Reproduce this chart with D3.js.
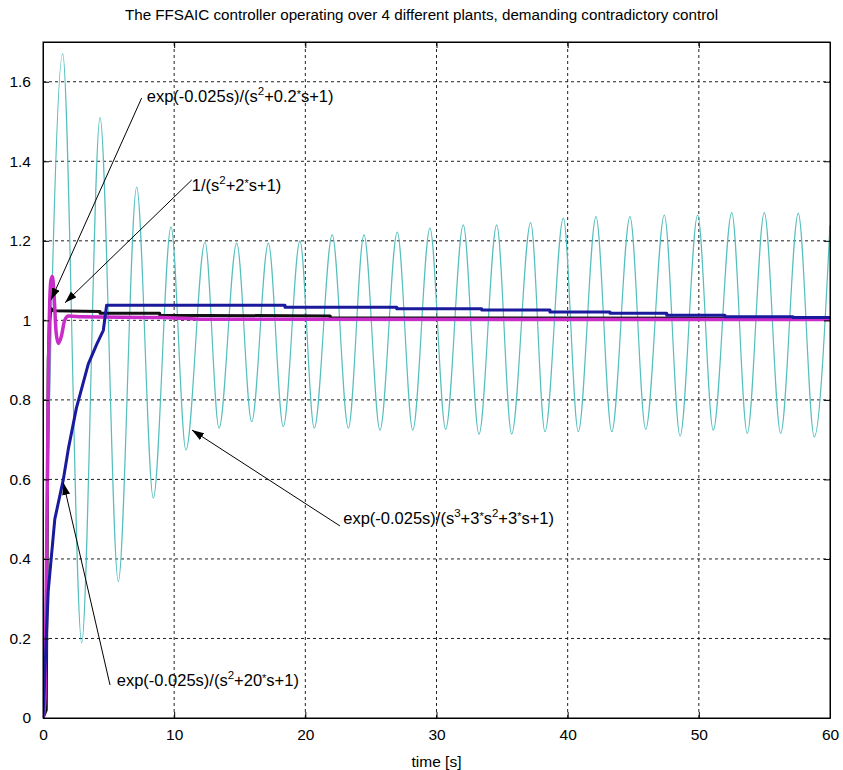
<!DOCTYPE html>
<html>
<head>
<meta charset="utf-8">
<script src="https://cdn.jsdelivr.net/npm/d3@7/dist/d3.min.js"></script>
<style>
    body { margin: 0; background: #fff; }
    svg { display: block; font-family: "Liberation Sans", Arial, sans-serif; }
</style>
</head>
<body>
<div class="chart"></div>
<script>
const xTicks = [0, 10, 20, 30, 40, 50, 60]
const xTickLabels = ["0", "10", "20", "30", "40", "50", "60"]
const yTicks = [0, 0.2, 0.4, 0.6, 0.8, 1, 1.2, 1.4, 1.6]
const yTickLabels = ["0", "0.2", "0.4", "0.6", "0.8", "1", "1.2", "1.4", "1.6"]

// exp(-0.025s)/(s^3+3*s^2+3*s+1): start, then peaks and troughs
const cyanTime = [0, 1.50, 2.95, 4.35, 5.74, 7.14, 8.41, 9.76, 10.90, 12.35, 13.42, 14.77, 15.91,
    17.18, 18.32, 19.59, 20.68, 22.05, 23.28, 24.47, 25.69, 27.01, 28.19, 29.50, 30.70, 32.04,
    33.24, 34.59, 35.73, 37.18, 38.27, 39.67, 40.81, 42.16, 43.36, 44.75, 45.95, 47.37, 48.57,
    49.91, 51.10, 52.51, 53.69, 54.99, 56.24, 57.58, 58.80, 60]
const cyanValue = [0, 1.67, 0.189, 1.51, 0.343, 1.335, 0.553, 1.235, 0.674, 1.197, 0.729, 1.194, 0.745,
    1.194, 0.733, 1.200, 0.729, 1.215, 0.729, 1.215, 0.724, 1.222, 0.724, 1.232, 0.726, 1.240,
    0.714, 1.240, 0.714, 1.246, 0.720, 1.257, 0.720, 1.261, 0.720, 1.261, 0.726, 1.265, 0.709,
    1.265, 0.724, 1.271, 0.716, 1.271, 0.716, 1.269, 0.707, 1.24]

// 1/(s^2+2*s+1)
const blackTime = [0, 0.25, 0.32, 0.4, 0.5, 0.6, 0.8, 4.35, 4.35, 8.9, 8.9, 21.9, 21.9, 60]
const blackValue = [0, 0.02, 0.45, 0.9, 1.0, 1.03, 1.024, 1.022, 1.018, 1.018, 1.013, 1.011, 1.006, 1.005]

// exp(-0.025s)/(s^2+0.2*s+1)
const magentaTime = [0, 0.15, 0.3, 0.45, 0.6, 0.72, 0.85, 1.0, 1.17, 1.4, 1.65, 1.95, 3, 9, 12, 60]
const magentaValue = [0, 0.05, 0.5, 0.95, 1.1, 1.11, 1.06, 0.97, 0.942, 0.96, 1.0, 1.011, 1.009, 1.007, 1.003, 1.002]

// exp(-0.025s)/(s^2+20*s+1)
const blueTime = [0, 0.4, 0.9, 1.55, 1.95, 2.55, 3.45, 4.1, 4.6, 4.85, 18.45, 18.45, 26.97, 26.97,
    33.45, 33.45, 38.65, 38.65, 43.23, 43.23, 47.55, 47.55, 51.99, 51.99, 57.18, 57.18, 60]
const blueValue = [0, 0.32, 0.50, 0.60, 0.68, 0.78, 0.89, 0.94, 0.975, 1.038, 1.038, 1.033, 1.033, 1.029,
    1.029, 1.026, 1.026, 1.021, 1.021, 1.018, 1.018, 1.013, 1.013, 1.009, 1.009, 1.007, 1.007]

const title = "The FFSAIC controller operating over 4 different plants, demanding contradictory control"

function drawChart() {
    var w = 843, h = 770;
    var padding = { left: 43, right: 13, top: 42, bottom: 52 };

    var svg = d3.select('.chart')
        .append("svg")
        .attr("width", w)
        .attr("height", h);

    var xScale = d3.scaleLinear().domain([0, 60]).range([padding.left, w - padding.right]);
    var yScale = d3.scaleLinear().domain([0, 1.7]).range([h - padding.bottom, padding.top]);

    var defs = svg.append("defs");
    defs.append("clipPath").attr("id", "plot-clip")
        .append("rect")
        .attr("x", xScale(0)).attr("y", yScale(1.7))
        .attr("width", xScale(60) - xScale(0))
        .attr("height", yScale(0) - yScale(1.7));
    defs.append("marker")
        .attr("id", "arrow")
        .attr("markerUnits", "userSpaceOnUse")
        .attr("viewBox", "0 0 12 8")
        .attr("refX", 12).attr("refY", 4)
        .attr("markerWidth", 12).attr("markerHeight", 8)
        .attr("orient", "auto")
        .append("path")
        .attr("d", "M0,0L12,4L0,8z")
        .attr("fill", "#000");

    // grid
    var grid = svg.append("g").attr("class", "grid");
    grid.selectAll(".gx")
        .data(xTicks.filter(d => d > 0 && d < 60))
        .enter().append("line")
        .attr("x1", d => xScale(d)).attr("x2", d => xScale(d))
        .attr("y1", yScale(0)).attr("y2", yScale(1.7));
    grid.selectAll(".gy")
        .data(yTicks.filter(d => d > 0))
        .enter().append("line")
        .attr("x1", xScale(0)).attr("x2", xScale(60))
        .attr("y1", d => yScale(d)).attr("y2", d => yScale(d));
    grid.selectAll("line")
        .attr("stroke", "#222")
        .attr("stroke-width", 1)
        .attr("stroke-dasharray", "3,3");

    // series
    var lineLinear = d3.line().x(d => xScale(d[0])).y(d => yScale(d[1]));
    var lineSmooth = d3.line().x(d => xScale(d[0])).y(d => yScale(d[1])).curve(d3.curveMonotoneX);

    var series = [
        { t: cyanTime, v: cyanValue, color: "#55bebe", width: 1.2, gen: lineSmooth },
        { t: blackTime, v: blackValue, color: "#111", width: 3, gen: lineLinear },
        { t: magentaTime, v: magentaValue, color: "#c92cc9", width: 3.5, gen: lineSmooth },
        { t: blueTime, v: blueValue, color: "#1a1a9c", width: 3, gen: lineLinear }
    ];

    var plot = svg.append("g").attr("clip-path", "url(#plot-clip)");
    series.forEach(s => {
        plot.append("path")
            .datum(s.t.map((t, i) => [t, s.v[i]]))
            .attr("fill", "none")
            .attr("stroke", s.color)
            .attr("stroke-width", s.width)
            .attr("stroke-linejoin", "round")
            .attr("d", s.gen);
    });

    // axes
    var xAxis = d3.axisBottom(xScale).tickValues(xTicks)
        .tickFormat((d, i) => xTickLabels[i]).tickSizeInner(-6).tickSizeOuter(0).tickPadding(11);
    var yAxis = d3.axisLeft(yScale).tickValues(yTicks)
        .tickFormat((d, i) => yTickLabels[i]).tickSizeInner(-6).tickSizeOuter(0).tickPadding(12);
    var xAxisTop = d3.axisTop(xScale).tickValues(xTicks).tickFormat("").tickSizeInner(-6).tickSizeOuter(0);
    var yAxisRight = d3.axisRight(yScale).tickValues(yTicks).tickFormat("").tickSizeInner(-6).tickSizeOuter(0);

    svg.append("g").attr("transform", `translate(0, ${yScale(0)})`).call(xAxis);
    svg.append("g").attr("transform", `translate(${xScale(0)}, 0)`).call(yAxis);
    svg.append("g").attr("transform", `translate(0, ${yScale(1.7)})`).call(xAxisTop);
    svg.append("g").attr("transform", `translate(${xScale(60)}, 0)`).call(yAxisRight);

    svg.selectAll(".tick text")
        .attr("font-family", "'Liberation Sans', Arial, sans-serif")
        .attr("font-size", 15.5)
        .attr("fill", "#000");
    svg.selectAll(".domain").attr("stroke", "#000");
    svg.selectAll(".tick line").attr("stroke", "#000");

    svg.append("rect")
        .attr("x", xScale(0)).attr("y", yScale(1.7))
        .attr("width", xScale(60) - xScale(0))
        .attr("height", yScale(0) - yScale(1.7))
        .attr("fill", "none")
        .attr("stroke", "#000")
        .attr("stroke-width", 1);

    // annotations
    var notes = [
        { label: "exp(-0.025s)/(s^2+0.2*s+1)", at: [7.91, 1.549], from: [7.52, 1.559], to: [0.61, 1.051] },
        { label: "1/(s^2+2*s+1)", at: [11.34, 1.326], from: [11.34, 1.353], to: [1.68, 1.044] },
        { label: "exp(-0.025s)/(s^3+3*s^2+3*s+1)", at: [22.89, 0.488], from: [22.64, 0.483], to: [11.36, 0.724] },
        { label: "exp(-0.025s)/(s^2+20*s+1)", at: [5.62, 0.0815], from: [5.11, 0.083], to: [1.56, 0.591] }
    ];

    notes.forEach(n => {
        svg.append("line")
            .attr("x1", xScale(n.from[0])).attr("y1", yScale(n.from[1]))
            .attr("x2", xScale(n.to[0])).attr("y2", yScale(n.to[1]))
            .attr("stroke", "#000")
            .attr("stroke-width", 1)
            .attr("marker-end", "url(#arrow)");

        var text = svg.append("text")
            .attr("x", xScale(n.at[0]))
            .attr("y", yScale(n.at[1]))
            .attr("font-size", 16.5)
            .attr("fill", "#000");
        // ^d is a superscript digit, * is drawn small and raised like the original
        var parts = n.label.split(/(\^\d|\*)/).filter(p => p.length);
        var shift = 0;
        parts.forEach(p => {
            var ts = text.append("tspan");
            var want = 0;
            if (p[0] === "^") {
                ts.attr("font-size", 11.5).text(p.slice(1));
                want = -7;
            } else if (p === "*") {
                ts.attr("font-size", 11).text("*");
                want = -4;
            } else {
                ts.text(p);
            }
            if (want !== shift) ts.attr("dy", want - shift);
            shift = want;
        });
    });

    // title and label
    svg.append("text")
        .attr("x", w / 2)
        .attr("y", 20)
        .attr("text-anchor", "middle")
        .attr("font-size", 15.2)
        .text(title);

    svg.append("text")
        .attr("x", (xScale(0) + xScale(60)) / 2)
        .attr("y", 767)
        .attr("text-anchor", "middle")
        .attr("font-size", 15.5)
        .text("time [s]");
}

drawChart();
</script>
</body>
</html>
